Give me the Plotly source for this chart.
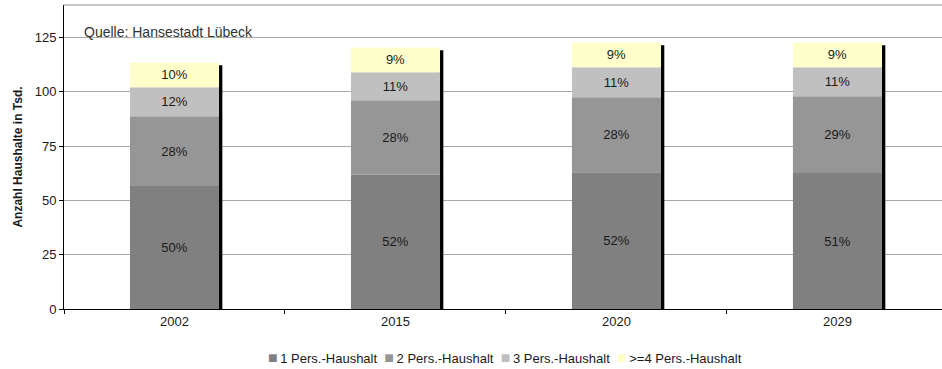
import plotly.graph_objects as go
import numpy as np

years = ["2002", "2015", "2020", "2029"]
series_names = ["1 Pers.-Haushalt", "2 Pers.-Haushalt", "3 Pers.-Haushalt", ">=4 Pers.-Haushalt"]
p1 = [56.6, 61.8, 63.0, 62.6]
p2 = [32.2, 34.3, 34.5, 35.4]
p3 = [13.3, 12.9, 13.8, 13.3]
p4 = [11.4, 11.4, 11.4, 11.4]
lab1 = ["50%", "52%", "52%", "51%"]
lab2 = ["28%", "28%", "28%", "29%"]
lab3 = ["12%", "11%", "11%", "11%"]
lab4 = ["10%", "9%", "9%", "9%"]
colors = ["#808080", "#969696", "#C0C0C0", "#FFFFCC"]

values = [p1, p2, p3, p4]
labels = [lab1, lab2, lab3, lab4]

FONT = "Liberation Sans, Arial, sans-serif"
BAR_W = 0.403

fig = go.Figure()

totals = np.sum(np.array(values), axis=0)
# shadow line on the right edge of each bar
fig.add_trace(go.Bar(
    x=years, y=totals - 1.2, base=[0] * len(years),
    width=0.017, offset=BAR_W / 2 - 0.002,
    marker=dict(color="black", line=dict(width=0)),
    showlegend=False, hoverinfo="skip"))

base = np.zeros(len(years))
for name, vals, labs, col in zip(series_names, values, labels, colors):
    fig.add_trace(go.Bar(
        x=years, y=vals, base=base.copy(), name=name,
        width=BAR_W,
        marker=dict(color=col, line=dict(width=0)),
        text=labs, textposition="inside", insidetextanchor="middle",
        textangle=0,
        textfont=dict(family=FONT, size=13, color="#1a1a1a"),
        showlegend=False,
    ))
    base = base + np.array(vals)

fig.update_layout(
    width=942, height=369,
    margin=dict(l=64, r=0, t=5, b=60, autoexpand=False),
    paper_bgcolor="white", plot_bgcolor="white",
    barmode="overlay",
    font=dict(family=FONT, size=13, color="#1a1a1a"),
    showlegend=False,
    uniformtext=dict(mode="show", minsize=8),
)
fig.update_xaxes(
    type="category", range=[-0.5, 3.473],
    showline=True, linecolor="black", linewidth=1,
    ticks="outside", tickson="boundaries", ticklen=4, tickcolor="black",
    showgrid=False, tickfont=dict(size=13), automargin=False,
)
fig.update_yaxes(
    range=[0, 140], tickvals=[0, 25, 50, 75, 100, 125],
    showline=True, linecolor="black", linewidth=1,
    ticks="outside", ticklen=4, tickcolor="black",
    showgrid=True, gridcolor="#a8a8a8", gridwidth=1,
    zeroline=False, tickfont=dict(size=13), automargin=False,
    title=dict(text="<b>Anzahl Haushalte in Tsd.</b>", font=dict(size=12, family=FONT), standoff=9),
)
fig.add_shape(type="line", xref="paper", yref="paper", x0=0, x1=1, y0=1, y1=1,
              line=dict(color="#909090", width=1))
fig.add_annotation(text="Quelle: Hansestadt Lübeck", xref="paper", yref="y",
                   x=0.0205, y=127.4, xanchor="left", yanchor="middle", showarrow=False,
                   font=dict(family=FONT, size=14, color="#333333"))

# legend drawn as one text line with coloured square glyphs
legend_parts = []
for name, col in zip(series_names, colors):
    legend_parts.append(f"<span style='color:{col};font-size:16px'>■</span>\u2009{name.replace('>', '&gt;')}")
fig.add_annotation(text="&nbsp;&nbsp;".join(legend_parts), xref="paper", yref="paper",
                   x=(505 - 64) / 878, y=-(357 - 309) / 304, xanchor="center", yanchor="middle",
                   showarrow=False, font=dict(family=FONT, size=13, color="#1a1a1a"))

fig.write_html("out.html", config={"displayModeBar": False},
               post_script="document.body.style.margin='0';document.body.style.padding='0';")
